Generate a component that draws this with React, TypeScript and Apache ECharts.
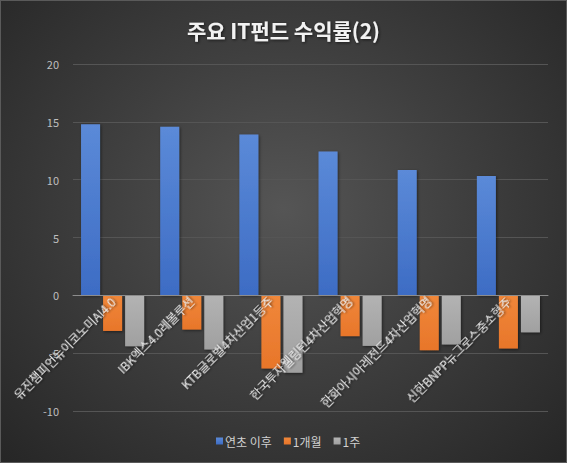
import React, { useEffect, useRef } from "react";
import * as echarts from "echarts";

const categories = [
  "유진챔피언뉴이코노미AI4.0",
  "IBK엑스4.0레볼루션",
  "KTB글로벌4차산업1등주",
  "한국투자웰링턴4차산업혁명",
  "한화아시아레전드4차산업혁명",
  "신한BNPP뉴그로스중소형주",
];
const seriesNames = ["연초 이후", "1개월", "1주"];
const ytd = [14.8, 14.57, 13.9, 12.44, 10.83, 10.32];
const month1 = [-3.08, -2.96, -6.32, -3.53, -4.74, -4.6];
const week1 = [-4.4, -4.68, -6.7, -4.37, -4.25, -3.2];
const yTicks = { min: -10, max: 20, interval: 5 };

const FONT = "'Noto Sans CJK KR', 'Noto Sans', sans-serif";

export default function App() {
  const ref = useRef<HTMLDivElement>(null);
  useEffect(() => {
    if (!ref.current) return;
    const chart = echarts.init(ref.current, null, { renderer: "svg" });
    const grad = (top: string, bottom: string) =>
      new echarts.graphic.LinearGradient(0, 0, 0, 1, [
        { offset: 0, color: top },
        { offset: 1, color: bottom },
      ]);
    const shadow = {
      shadowColor: "rgba(0,0,0,0.5)",
      shadowBlur: 3,
      shadowOffsetX: 1,
      shadowOffsetY: 1,
    };
    const barBase = {
      type: "bar" as const,
      barWidth: 19,
      barGap: "16%",
    };
    chart.setOption({
      animation: false,
      backgroundColor: "transparent",
      textStyle: { fontFamily: FONT },
      title: {
        text: "주요 IT펀드 수익률(2)",
        left: "center",
        top: 13,
        textStyle: {
          color: "#f2f2f2",
          fontSize: 21,
          fontWeight: "bold",
          fontFamily: FONT,
          textShadowColor: "rgba(0,0,0,0.6)",
          textShadowBlur: 3,
          textShadowOffsetX: 1,
          textShadowOffsetY: 1,
        },
      },
      legend: {
        bottom: 10,
        left: 210,
        itemWidth: 7,
        itemHeight: 7,
        itemGap: 12,
        icon: "rect",
        textStyle: { color: "#d0d0d0", fontSize: 12, fontFamily: FONT, padding: [0, 0, 0, -3] },
        data: seriesNames,
      },
      grid: { left: 72, right: 18, top: 63, bottom: 51, containLabel: false, outerBoundsMode: "none" },
      xAxis: {
        type: "category",
        data: categories,
        offset: -116,
        axisLine: { onZero: false, lineStyle: { color: "#8c8c8c", width: 1 } },
        axisTick: { show: false },
        axisLabel: {
          rotate: 45,
          interval: 0,
          color: "#e8e8e8",
          fontSize: 12,
          fontFamily: FONT,
          margin: 4,
          textShadowColor: "rgba(0,0,0,0.7)",
          textShadowBlur: 2,
          textShadowOffsetX: 1,
          textShadowOffsetY: 1,
        },
        z: 3,
      },
      yAxis: {
        type: "value",
        min: yTicks.min,
        max: yTicks.max,
        interval: yTicks.interval,
        axisLine: { show: false },
        axisTick: { show: false },
        axisLabel: { color: "#bfbfbf", fontSize: 11, fontFamily: FONT, margin: 14 },
        splitLine: { lineStyle: { color: "#555555", width: 1 } },
      },
      series: [
        {
          ...barBase,
          name: seriesNames[0],
          data: ytd,
          itemStyle: { color: grad("#5b8ad8", "#3d6cc4"), ...shadow },
        },
        {
          ...barBase,
          name: seriesNames[1],
          data: month1,
          itemStyle: { color: grad("#f0873a", "#e8762a"), ...shadow },
        },
        {
          ...barBase,
          name: seriesNames[2],
          data: week1,
          itemStyle: { color: grad("#b3b3b3", "#a0a0a0"), ...shadow },
        },
      ],
      color: ["#4472C4", "#ED7D31", "#A5A5A5"],
    });
    return () => chart.dispose();
  }, []);
  return (
    <div
      style={{
        position: "absolute",
        left: 0,
        top: 0,
        width: 567,
        height: 463,
        boxSizing: "border-box",
        border: "1px solid #5a5a5a",
        background: "radial-gradient(ellipse at 50% 45%, #555555 0%, #3f3f3f 45%, #262626 100%)",
      }}
    >
      <div ref={ref} style={{ width: 565, height: 461 }} />
    </div>
  );
}
